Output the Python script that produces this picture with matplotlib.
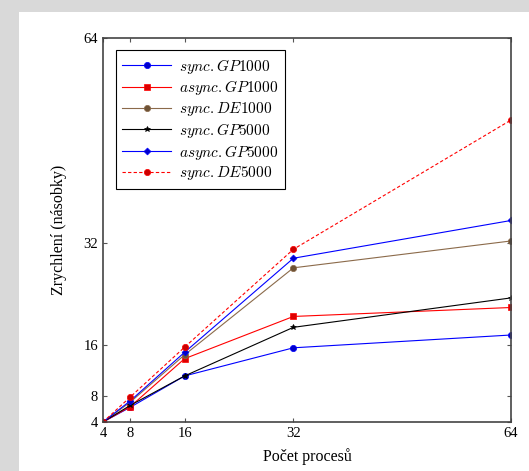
import matplotlib
matplotlib.use('Agg')
import matplotlib.pyplot as plt
from matplotlib.patches import Rectangle

plt.rcParams['font.family'] = 'serif'
plt.rcParams['font.serif'] = ['Liberation Serif', 'DejaVu Serif']
plt.rcParams['mathtext.fontset'] = 'cm'

# data
procs = [4, 8, 16, 32, 64]
sync_gp1000 = [4, 6.3, 11.2, 15.6, 17.6]
async_gp1000 = [4, 6.4, 13.9, 20.5, 21.9]
sync_de1000 = [4, 7.1, 14.5, 28.1, 32.3]
sync_gp5000 = [4, 6.6, 11.2, 18.8, 23.4]
async_gp5000 = [4, 7.3, 14.9, 29.6, 35.5]
sync_de5000 = [4, 7.9, 15.7, 31.0, 51.2]
xticks = [4, 8, 16, 32, 64]
yticks = [4, 8, 16, 32, 64]

fig = plt.figure(figsize=(5.29, 4.71), dpi=100)
fig.patch.set_facecolor('#d9d9d9')
# white page behind the plot
fig.add_artist(Rectangle((0.035, 0.0), 0.965, 0.975, transform=fig.transFigure,
                         facecolor='white', edgecolor='none', zorder=0))
ax = fig.add_axes([0.1947, 0.104, 0.7713, 0.815])

series = [
    (sync_gp1000, r'$sync.GP1000$', dict(color='blue', marker='o', mfc='#0000cc', ms=4.5)),
    (async_gp1000, r'$async.GP1000$', dict(color='red', marker='s', mfc='#dd0000', ms=5)),
    (sync_de1000, r'$sync.DE1000$', dict(color='#8b6a4a', marker='o', mfc='#6e5235', ms=4.5)),
    (sync_gp5000, r'$sync.GP5000$', dict(color='black', marker='*', ms=4)),
    (async_gp5000, r'$async.GP5000$', dict(color='blue', marker='D', mfc='#0000cc', ms=3.5)),
    (sync_de5000, r'$sync.DE5000$', dict(color='red', marker='o', mfc='#cc0000', ms=4.5,
                                         linestyle=(0, (3, 2)))),
]
for y, lab, kw in series:
    ax.plot(procs, y, label=lab, lw=0.8, mew=0.5, **kw)

ax.set_xlim(4, 64)
ax.set_ylim(4, 64)
ax.set_xticks(xticks)
ax.set_yticks(yticks)
ax.tick_params(direction='in', top=True, right=True, length=3, labelsize=10.5,
               color='#555555')
for s in ax.spines.values():
    s.set_color('#444444')
    s.set_linewidth(1.2)

ax.set_xlabel('Počet procesů', fontsize=11.5, labelpad=6)
ax.set_ylabel('Zrychlení (násobky)', fontsize=11.5, labelpad=12)

leg = ax.legend(loc='upper left', bbox_to_anchor=(0.012, 0.99), fontsize=11,
                fancybox=False, framealpha=1, edgecolor='black',
                handlelength=3.2, handletextpad=0.5, labelspacing=0.18,
                borderpad=0.45)
leg.get_frame().set_linewidth(0.8)

fig.savefig('out.png', dpi=100, facecolor=fig.get_facecolor())
